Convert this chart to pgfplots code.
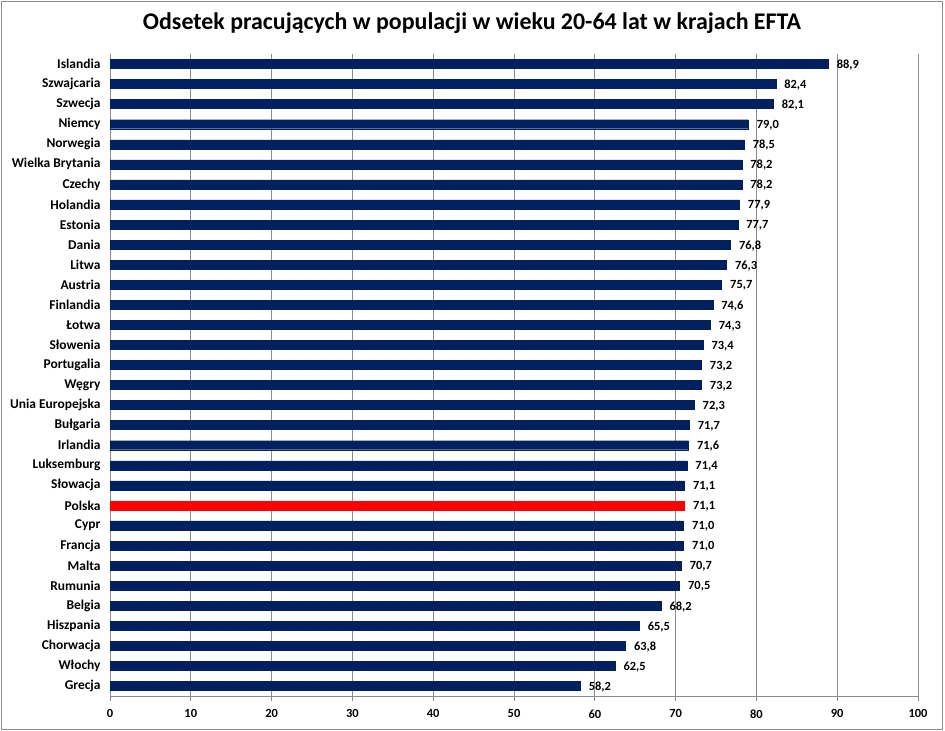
\documentclass[border=0pt]{standalone}
\usepackage{fontspec}
\setmainfont{Carlito}
\usepackage{pgfplots}
\usepackage{pgfplotstable}
\pgfplotsset{compat=1.18}
\definecolor{navy}{HTML}{002060}
\definecolor{gridgray}{HTML}{8C8C8C}
\pgfplotstableread{
idx val
0 58.2
1 62.5
2 63.8
3 65.5
4 68.2
5 70.5
6 70.7
7 71.0
8 71.0
10 71.1
11 71.4
12 71.6
13 71.7
14 72.3
15 73.2
16 73.2
17 73.4
18 74.3
19 74.6
20 75.7
21 76.3
22 76.8
23 77.7
24 77.9
25 78.2
26 78.2
27 78.5
28 79.0
29 82.1
30 82.4
31 88.9
}\others
\pgfplotstableread{
idx val
9 71.1
}\polska
\begin{document}
\begin{tikzpicture}[x=1bp,y=1bp]
\useasboundingbox (0,0) rectangle (945,731);
\draw[gridgray, line width=1bp] (1.5,1.5) rectangle (942,729.5);
\node[font=\fontsize{24}{28}\selectfont\bfseries] at (472,708) {Odsetek pracujących w populacji w wieku 20-64 lat w krajach EFTA};
\begin{axis}[
  at={(110bp,35bp)}, anchor=south west,
  scale only axis, width=808bp, height=642bp,
  xbar, bar width=9bp,
  xmin=0, xmax=100, ymin=-0.5, ymax=31.5,
  enlarge y limits=false,
  axis lines*=left,
  axis line style={gridgray, line width=0.8bp},
  xmajorgrids, major grid style={gridgray, line width=0.8bp},
  xtick={0,10,...,100},
  xtick style={gridgray, line width=0.8bp},
  tick align=outside, major tick length=5bp,
  ytick={0,...,31},
  ytick style={draw=none},
  yticklabels={Grecja,Włochy,Chorwacja,Hiszpania,Belgia,Rumunia,Malta,Francja,Cypr,Polska,Słowacja,Luksemburg,Irlandia,Bułgaria,Unia Europejska,Węgry,Portugalia,Słowenia,Łotwa,Finlandia,Austria,Litwa,Dania,Estonia,Holandia,Czechy,Wielka Brytania,Norwegia,Niemcy,Szwecja,Szwajcaria,Islandia},
  yticklabel style={font=\fontsize{13.5}{15}\selectfont\bfseries, text=black, xshift=-1bp},
  xticklabel style={font=\fontsize{12.5}{14}\selectfont\bfseries, text=black, yshift=-5bp},
  extra y ticks={-0.5,0.5,...,31.5},
  extra y tick labels={},
  extra y tick style={grid=none, tick style={draw=gridgray, line width=0.8bp}, major tick length=5bp},
  /pgf/number format/assume math mode=true,
  nodes near coords,
  nodes near coords style={font=\fontsize{12.5}{14}\selectfont\bfseries, anchor=west, xshift=5bp, yshift=-1bp, /pgf/number format/.cd, fixed, fixed zerofill, precision=1, use comma, assume math mode=true},
  clip=false,
]
\addplot[fill=navy, draw=navy, bar shift=0pt] table[x=val, y=idx] {\others};
\addplot[fill=red, draw=red, bar shift=0pt] table[x=val, y=idx] {\polska};
\end{axis}
\end{tikzpicture}
\end{document}
